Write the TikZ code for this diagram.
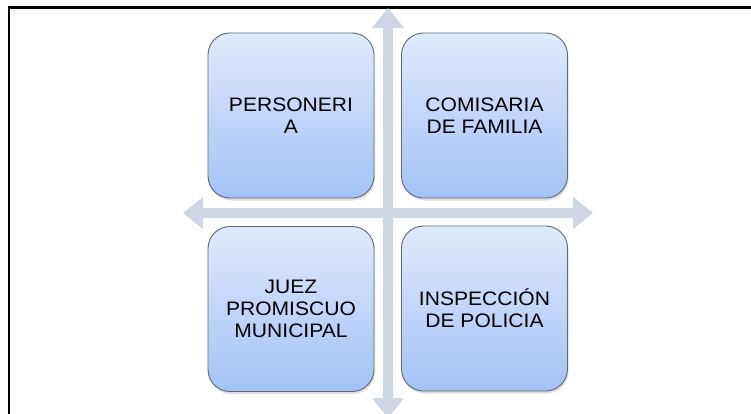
\documentclass[tikz,border=0pt]{standalone}
\usepackage{fontspec}
\setmainfont{Liberation Sans}[FakeStretch=1.08]
\usetikzlibrary{arrows.meta,shadows}
\definecolor{boxtop}{HTML}{DFEAFC}
\definecolor{boxbot}{HTML}{A3C2F6}
\definecolor{boxline}{HTML}{5E6878}
\definecolor{axisgray}{HTML}{CED6E4}
\begin{document}
\begin{tikzpicture}[x=1pt, y=-1pt,
    caja/.style={rectangle, rounded corners=22pt, draw=boxline, line width=0.9pt,
        top color=boxtop, bottom color=boxbot, minimum width=166pt, minimum height=165pt,
        align=center, font=\fontsize{19.5}{22}\selectfont,
        drop shadow={opacity=0.25, shadow xshift=1pt, shadow yshift=-2.5pt}},
    eje/.style={draw=axisgray, line width=10pt,
        {Triangle[width=31pt,length=20pt]}-{Triangle[width=31pt,length=20pt]}}]
    \useasboundingbox (0,0) rectangle (751,413);
    \clip (0,0) rectangle (751,413);
    % frame (top and left only)
    \draw[line width=2.5pt] (9,420) -- (9,7.5) -- (760,7.5);
    % axis end points
    \coordinate (arriba) at (388,8);
    \coordinate (abajo) at (388,418);
    \coordinate (izq) at (183,213);
    \coordinate (der) at (593,213);
    % axes
    \draw[eje] (izq) -- (der);
    \draw[eje] (arriba) -- (abajo);
    % four boxes
    \node[caja] (pers) at (291,115.5) {PERSONERI\\A};
    \node[caja] (comi) at (484.5,115.5) {COMISARIA\\DE FAMILIA};
    \node[caja] (juez) at (291,309) {JUEZ\\PROMISCUO\\MUNICIPAL};
    \node[caja] (insp) at (484.5,308.5) {INSPECCIÓN\\DE POLICIA};
\end{tikzpicture}
\end{document}
